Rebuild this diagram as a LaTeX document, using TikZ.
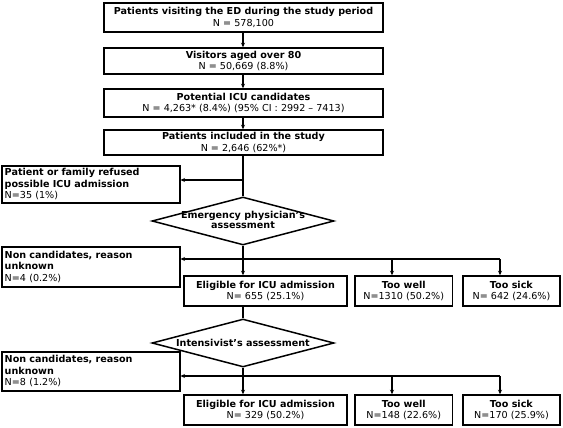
\documentclass[tikz,border=0pt]{standalone}
\usepackage{fontspec}
\setmainfont{DejaVu Sans}
\usetikzlibrary{shapes.geometric,arrows.meta}

\tikzset{
  txt/.style={font=\fontsize{9.6}{11.6}\selectfont},
  mainbox/.style={txt, draw, line width=1.5pt, minimum width=279pt, inner sep=0.5pt, align=center},
  sidebox/.style={txt, draw, line width=1.5pt, anchor=north west, text width=172pt, inner xsep=3pt, inner ysep=0.5pt, align=left},
  endbox/.style={txt, draw, line width=1.5pt, inner sep=0.5pt, minimum height=30pt, align=center},
  decision/.style={txt, draw, diamond, aspect=3.8, line width=1.5pt, inner sep=0pt, minimum width=182pt, minimum height=48pt},
  arr/.style={-{Stealth[length=4.5pt,width=4pt]}, line width=1.2pt},
  lnk/.style={line width=1.2pt},
}

\begin{document}
\begin{tikzpicture}[x=1pt,y=1pt,yscale=-1,xscale=1]
\useasboundingbox (0,0) rectangle (563,428);

% Text Node
\node [mainbox, minimum height=29pt] (visit) at (243.5,17.5) {\textbf{Patients visiting the ED during the study period}\\N = 578,100};
% Text Node
\node [mainbox, minimum height=26pt] (aged) at (243.5,61) {\textbf{Visitors aged over 80}\\N = 50,669 (8.8\%)};
% Text Node
\node [mainbox, minimum height=28pt] (cand) at (243.5,103) {\textbf{Potential ICU candidates}\\N = 4,263* (8.4\%) (95\% CI : 2992 – 7413)};
% Text Node
\node [mainbox, minimum height=25pt] (incl) at (243.5,142.5) {\textbf{Patients included in the study}\\N = 2,646 (62\%*)};
% Text Node
\node [sidebox, minimum height=37pt] (refused) at (1,165) {\textbf{Patient or family refused}\\\textbf{possible ICU admission}\\N=35 (1\%)};
% Text Node
\node [decision] (emerg) at (243,221) {\makebox[0pt]{\begin{tabular}{@{}c@{}}\textbf{Emergency physician’s}\\[-2pt]\textbf{assessment}\end{tabular}}};
% Text Node
\node [sidebox, minimum height=40pt] (nonA) at (1,246) {\textbf{Non candidates, reason}\\\textbf{unknown}\\N=4 (0.2\%)};
% Text Node
\node [endbox, minimum width=163pt] (eligA) at (265.5,291) {\textbf{Eligible for ICU admission}\\N= 655 (25.1\%)};
% Text Node
\node [endbox, minimum width=97.5pt] (wellA) at (403.75,291) {\textbf{Too well}\\N=1310 (50.2\%)};
% Text Node
\node [endbox, minimum width=97pt] (sickA) at (511.5,291) {\textbf{Too sick}\\N= 642 (24.6\%)};
% Text Node
\node [decision] (intens) at (243,343) {\makebox[0pt]{\textbf{Intensivist’s assessment}}};
% Text Node
\node [sidebox, minimum height=39pt] (nonB) at (1,351) {\textbf{Non candidates, reason}\\\textbf{unknown}\\N=8 (1.2\%)};
% Text Node
\node [endbox, minimum width=163pt] (eligB) at (265.5,410) {\textbf{Eligible for ICU admission}\\N= 329 (50.2\%)};
% Text Node
\node [endbox, minimum width=97.5pt] (wellB) at (403.75,410) {\textbf{Too well}\\N=148 (22.6\%)};
% Text Node
\node [endbox, minimum width=97pt] (sickB) at (511.5,410) {\textbf{Too sick}\\N=170 (25.9\%)};

% junctions
\coordinate (jref) at (243,180);
\coordinate (jA) at (243,259);
\coordinate (jwellA) at (392,259);
\coordinate (jsickA) at (500,259);
\coordinate (jB) at (243,376);
\coordinate (jwellB) at (392,376);
\coordinate (jsickB) at (500,376);

%Straight Lines
\draw [arr] (visit.south -| jref) -- (aged.north -| jref);
\draw [arr] (aged.south -| jref) -- (cand.north -| jref);
\draw [arr] (cand.south -| jref) -- (incl.north -| jref);
\draw [lnk] (incl.south -| jref) -- (emerg.north);
\draw [arr] (jref) -- (refused.east |- jref);
%Straight Lines
\draw [arr] (emerg.south) -- (eligA.north -| jA);
\draw [lnk] (jA) -- (jsickA);
\draw [arr] (jA) -- (nonA.east |- jA);
\draw [arr] (jwellA) -- (wellA.north -| jwellA);
\draw [arr] (jsickA) -- (sickA.north -| jsickA);
%Straight Lines
\draw [lnk] (eligA.south -| jA) -- (intens.north);
\draw [arr] (intens.south) -- (eligB.north -| jB);
\draw [lnk] (jB) -- (jsickB);
\draw [arr] (jB) -- (nonB.east |- jB);
\draw [arr] (jwellB) -- (wellB.north -| jwellB);
\draw [arr] (jsickB) -- (sickB.north -| jsickB);

\end{tikzpicture}
\end{document}
